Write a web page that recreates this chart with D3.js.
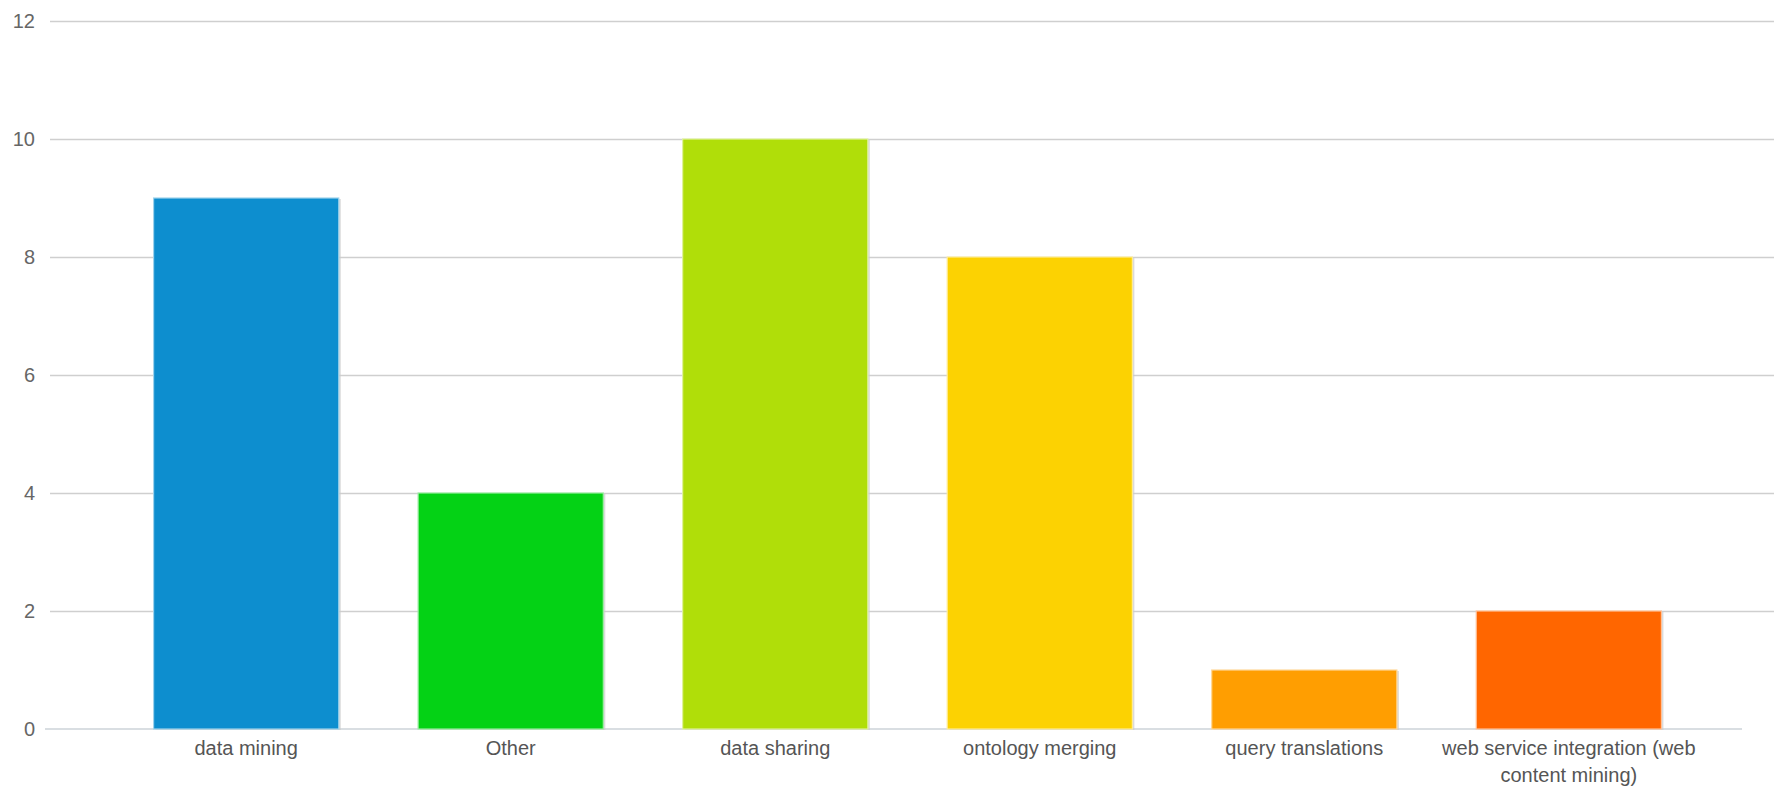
<!DOCTYPE html>
<html>
<head>
<meta charset="utf-8">
<script src="https://cdn.jsdelivr.net/npm/d3@7"></script>
<style>
  html, body { margin: 0; padding: 0; background: #fff; }
  svg { display: block; }
  text { font-family: "Liberation Sans", Arial, sans-serif; }
</style>
</head>
<body>
<svg id="chart" width="1774" height="788"></svg>
<script>
const categories = ["data mining", "Other", "data sharing", "ontology merging", "query translations", "web service integration (web content mining)"];
const values = [9, 4, 10, 8, 1, 2];
const colors = ["#0D8ECF", "#04D215", "#B0DE09", "#FCD202", "#FF9E01", "#FF6600"];
const yTicks = [0, 2, 4, 6, 8, 10, 12];

const svg = d3.select("#chart");
const W = 1774;

const y = d3.scaleLinear().domain([0, 12]).range([729, 21]);
const x = d3.scaleBand().domain(categories).range([61, 1754]).paddingInner(0.3).paddingOuter(0.35);

// gridlines + y labels
const yAxis = d3.axisLeft(y).tickValues(yTicks).tickSize(-(W - 50)).tickPadding(15);
const gy = svg.append("g").attr("transform", "translate(50,0)").call(yAxis);
gy.select(".domain").remove();
gy.selectAll(".tick line").attr("stroke", "#cfcfcf").attr("stroke-width", 1.6)
  .filter(d => d === 0).remove();
gy.selectAll(".tick text").attr("fill", "#666").style("font-size", "20px")
  .style("font-family", "'Liberation Sans', Arial, sans-serif");

// baseline
svg.append("line").attr("x1", 45).attr("x2", 1742).attr("y1", y(0)).attr("y2", y(0))
  .attr("stroke", "#cdd3d9").attr("stroke-width", 1.6);

const data = categories.map((c, i) => ({ c, v: values[i], col: colors[i] }));

// shadows
svg.append("g").selectAll("rect").data(data).join("rect")
  .attr("x", d => x(d.c) + 2).attr("y", d => y(d.v) + 1)
  .attr("width", x.bandwidth()).attr("height", d => y(0) - y(d.v))
  .attr("fill", "#cccccc").attr("opacity", 0.7);

// bars
svg.append("g").selectAll("rect").data(data).join("rect")
  .attr("x", d => x(d.c)).attr("y", d => y(d.v))
  .attr("width", x.bandwidth()).attr("height", d => y(0) - y(d.v))
  .attr("fill", d => d.col)
  .attr("stroke", d => d3.interpolateRgb(d.col, "#ffffff")(0.6))
  .attr("stroke-width", 1.2);

// x labels
const xl = svg.append("g").selectAll("text").data(data).join("text")
  .attr("text-anchor", "middle")
  .attr("fill", "#555")
  .style("font-size", "20px")
  .attr("x", d => x(d.c) + x.bandwidth() / 2)
  .attr("y", 755);

xl.each(function(d) {
  const t = d3.select(this);
  if (d.c.length > 30) {
    t.append("tspan").attr("x", x(d.c) + x.bandwidth() / 2).attr("dy", 0).text("web service integration (web");
    t.append("tspan").attr("x", x(d.c) + x.bandwidth() / 2).attr("dy", 27).text("content mining)");
  } else {
    t.text(d.c);
  }
});
</script>
</body>
</html>
